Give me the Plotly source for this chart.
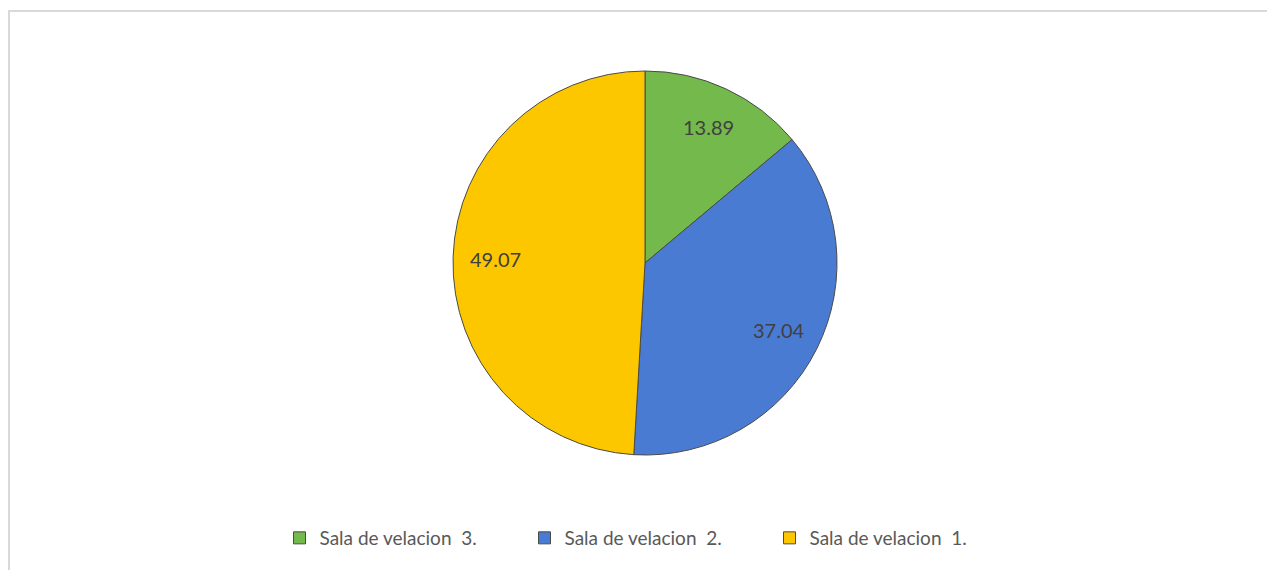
import math
import plotly.graph_objects as go

labels = ["Sala de velacion  3.", "Sala de velacion  2.", "Sala de velacion  1."]
values = [13.89, 37.04, 49.07]
colors = ["#74b94b", "#4a7bd3", "#fdc700"]

W, H = 1275, 570
OFF = 8  # page body margin
cx, cy, r = 645 - OFF, 263 - OFF, 192
FONT = "Lato, Open Sans, Liberation Sans"

fig = go.Figure(go.Pie(
    labels=labels,
    values=values,
    sort=False,
    direction="clockwise",
    rotation=0,
    marker=dict(colors=colors, line=dict(color="#4a4a4a", width=1)),
    textinfo="none",
    domain=dict(x=[(cx - r) / W, (cx + r) / W], y=[1 - (cy + r) / H, 1 - (cy - r) / H]),
    hoverinfo="label+value",
))

# data labels at mid-angle of each slice
total = sum(values)
annotations = []
cum = 0.0
for v in values:
    mid = (cum + v / 2) / total * 2 * math.pi
    cum += v
    lx = cx + 0.78 * r * math.sin(mid)
    ly = cy - 0.78 * r * math.cos(mid)
    annotations.append(dict(
        x=lx / W, y=1 - ly / H, xref="paper", yref="paper",
        text=f"{v:.2f}", showarrow=False,
        font=dict(family=FONT, size=20, color="#404040"),
        xanchor="center", yanchor="middle",
    ))

fig.update_layout(
    width=W, height=H,
    margin=dict(l=0, r=0, t=0, b=0),
    paper_bgcolor="white",
    plot_bgcolor="white",
    showlegend=True,
    annotations=annotations,
    legend=dict(
        orientation="h",
        x=(647 - OFF) / W, xanchor="center",
        y=1 - (538 - OFF) / H, yanchor="middle",
        font=dict(family=FONT, size=19, color="#595959"),
        itemwidth=30,
        entrywidth=200,
        entrywidthmode="pixels",
        traceorder="normal",
    ),
    shapes=[dict(
        type="rect", xref="paper", yref="paper",
        x0=(8 - OFF + 1) / W, x1=1.02, y0=-0.05, y1=1 - (11 - OFF) / H,
        line=dict(color="#d9d9d9", width=2),
        fillcolor="rgba(0,0,0,0)",
        layer="below",
    )],
)

fig.write_html("out.html")
